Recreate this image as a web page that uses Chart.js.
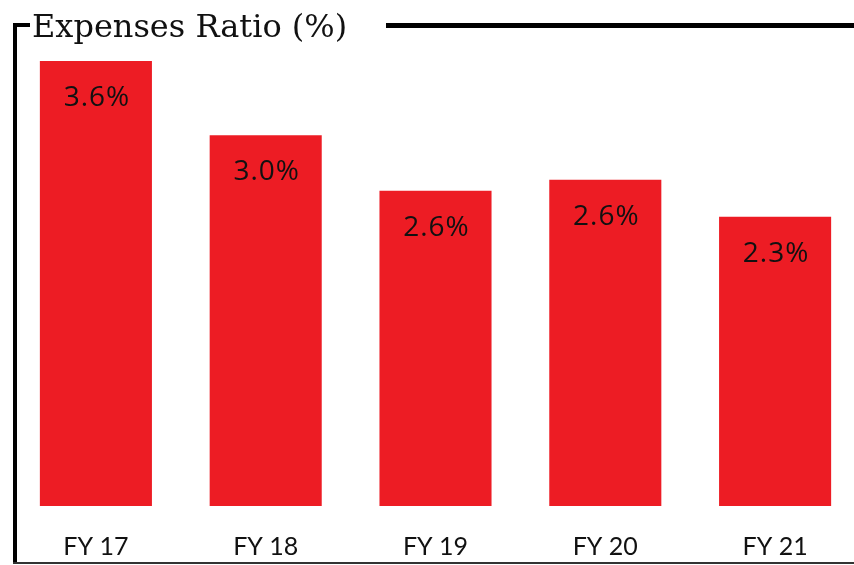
<!DOCTYPE html>
<html>
<head>
<meta charset="utf-8">
<script src="https://cdn.jsdelivr.net/npm/chart.js@4/dist/chart.umd.min.js"></script>
<style>
  html, body { margin: 0; padding: 0; background: #fff; overflow: hidden; }
  #wrap { position: relative; width: 854px; height: 565px; overflow: hidden; }
</style>
</head>
<body>
<div id="wrap"><canvas id="chart" width="862" height="580"></canvas></div>
<script>
const years = ["FY17", "FY18", "FY19", "FY20", "FY21"];
const shownYears = ["FY 17", "FY 18", "FY 19", "FY 20", "FY 21"];
// bar heights as drawn in the picture
const ratios = [3.6, 3.0, 2.55, 2.64, 2.34];
// labels as printed on the bars
const ratioLabels = ["3.6%", "3.0%", "2.6%", "2.6%", "2.3%"];
const titleText = "Expenses Ratio (%)";

const red = "#ED1C24";

// frame lines + title
const framePlugin = {
  id: "frame",
  afterDraw(chart) {
    const c = chart.ctx;
    c.save();
    c.fillStyle = "#000";
    c.fillRect(13, 23, 4, 541);
    c.fillRect(13, 23, 17, 4);
    c.fillRect(386, 23, 476, 5);
    c.fillStyle = "#333";
    c.fillRect(13, 562, 849, 2);
    c.fillStyle = "#111";
    c.font = "32px 'DejaVu Serif'";
    c.textBaseline = "alphabetic";
    c.textAlign = "left";
    c.fillText(titleText, 32, 37);
    c.restore();
  },
};

// value labels inside bars
const labelPlugin = {
  id: "barLabels",
  afterDatasetsDraw(chart) {
    const c = chart.ctx;
    const meta = chart.getDatasetMeta(0);
    c.save();
    c.fillStyle = "#111";
    c.font = "28px 'Open Sans'";
    c.letterSpacing = "1px";
    c.textAlign = "center";
    c.textBaseline = "middle";
    meta.data.forEach((bar, i) => {
      c.fillText(ratioLabels[i], bar.x + 1, bar.y + 37);
    });
    c.restore();
  },
};

new Chart(document.getElementById("chart"), {
  type: "bar",
  data: {
    labels: shownYears,
    datasets: [
      {
        data: ratios,
        backgroundColor: red,
        borderWidth: 0,
        barPercentage: 0.66,
        categoryPercentage: 1,
      },
    ],
  },
  options: {
    responsive: false,
    animation: false,
    devicePixelRatio: 1,
    layout: { padding: { left: 11, right: 2, top: 61, bottom: 0 } },
    plugins: {
      legend: { display: false },
      tooltip: { enabled: false },
    },
    scales: {
      x: {
        grid: { display: false },
        border: { display: false },
        ticks: {
          color: "#111",
          font: { family: "Lato", size: 25 },
          padding: 18,
          maxRotation: 0,
        },
      },
      y: {
        display: false,
        min: 0,
        max: 3.6,
      },
    },
  },
  plugins: [framePlugin, labelPlugin],
});
</script>
</body>
</html>
